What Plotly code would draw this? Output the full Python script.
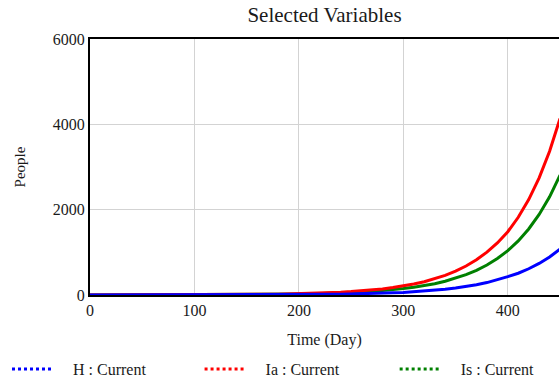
import plotly.graph_objects as go

days = list(range(0, 460, 10))

h_current = [0.2, 0.2, 0.3, 0.3, 0.4, 0.5, 0.6, 0.7, 0.8, 1.0,
             1.2, 1.5, 1.8, 2.2, 2.6, 3.2, 4.1, 4.9, 5.8, 7.2,
             8.7, 10.5, 13, 16, 19, 23, 28, 34, 41, 50,
             61, 75, 90, 110, 134, 162, 197, 240, 291, 354,
             430, 510, 615, 740, 890, 1075]

ia_current = [0.6, 0.8, 0.9, 1.1, 1.3, 1.6, 2.0, 2.4, 2.9, 3.5,
              4.2, 5.1, 6.2, 7.5, 9, 11, 14, 17, 20, 25,
              30, 36, 44, 54, 65, 80, 97, 118, 143, 174,
              211, 257, 312, 379, 461, 560, 680, 827, 1005, 1221,
              1484, 1821, 2236, 2745, 3370, 4137]

is_current = [0.4, 0.6, 0.6, 0.8, 0.9, 1.1, 1.4, 1.7, 2.0, 2.5,
              2.9, 3.6, 4.3, 5.3, 6.3, 7.7, 9.8, 12, 14, 18,
              21, 25, 31, 38, 46, 56, 68, 83, 100, 122,
              150, 180, 218, 265, 322, 392, 476, 579, 703, 855,
              1040, 1268, 1548, 1888, 2300, 2810]

series_names = ["H : Current", "Ia : Current", "Is : Current"]
series_values = [h_current, ia_current, is_current]
series_colors = ["#0000ff", "#ff0000", "#008000"]

FONT = "'Liberation Serif', 'Times New Roman', Times, serif"
TXT = "#1a1a1a"

fig = go.Figure()

# Actual curves (drawn so that blue ends on top)
for name, vals, col in reversed(list(zip(series_names, series_values, series_colors))):
    fig.add_trace(go.Scatter(x=days, y=vals, mode="lines", name=name,
                             line=dict(color=col, width=3),
                             showlegend=False, hoverinfo="skip"))

# Legend entries with dotted symbols, each in its own legend box
legend_ids = ["legend", "legend2", "legend3"]
legend_x = [0.0125, 0.357, 0.706]
for name, col, lid in zip(series_names, series_colors, legend_ids):
    fig.add_trace(go.Scatter(x=[None], y=[None], mode="lines",
                             name="\u00a0\u00a0\u00a0\u00a0" + name,
                             line=dict(color=col, width=3, dash="3px,3px"),
                             showlegend=True, legend=lid))

legend_common = dict(orientation="h", xref="container", yref="container",
                     xanchor="left", yanchor="middle", y=0.036,
                     itemwidth=40, font=dict(family=FONT, size=16, color=TXT),
                     bgcolor="rgba(0,0,0,0)")

fig.update_layout(
    width=559, height=383,
    margin=dict(l=90, r=0, t=39, b=88),
    paper_bgcolor="white", plot_bgcolor="white",
    font=dict(family=FONT, size=16, color=TXT),
    title=dict(text="Selected Variables", x=0.5, xref="paper", xanchor="center",
               y=0.962, yref="container", yanchor="middle",
               font=dict(family=FONT, size=21, color=TXT)),
    showlegend=True,
    legend=dict(x=legend_x[0], **legend_common),
    legend2=dict(x=legend_x[1], **legend_common),
    legend3=dict(x=legend_x[2], **legend_common),
)

fig.update_xaxes(range=[0, 449], dtick=100, tick0=0, showgrid=True,
                 gridcolor="#d3d3d3", gridwidth=1, zeroline=False,
                 showline=True, linecolor="black", linewidth=2, mirror=True,
                 ticks="", tickfont=dict(family=FONT, size=16, color=TXT),
                 title=dict(text="Time (Day)", font=dict(family=FONT, size=16, color=TXT),
                            standoff=16))
fig.update_yaxes(range=[0, 6000], dtick=2000, tick0=0, showgrid=True,
                 gridcolor="#d3d3d3", gridwidth=1, zeroline=False,
                 showline=True, linecolor="black", linewidth=2,
                 ticks="", tickfont=dict(family=FONT, size=16, color=TXT),
                 title=dict(text="People", font=dict(family=FONT, size=15, color=TXT),
                            standoff=24))

fig.write_html("out.html")
